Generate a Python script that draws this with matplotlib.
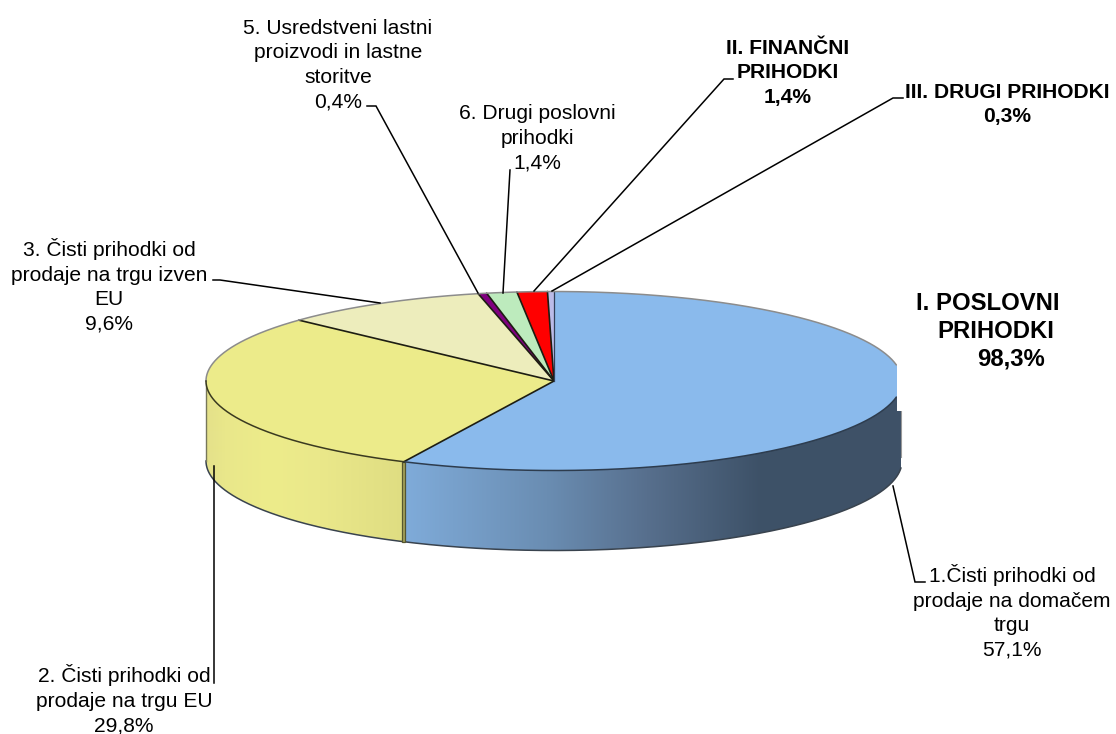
import numpy as np
import matplotlib
matplotlib.use("Agg")
import matplotlib.pyplot as plt
from matplotlib.patches import Polygon, PathPatch, Rectangle
from matplotlib.path import Path
from matplotlib.colors import to_rgb

plt.rcParams['font.family'] = ['Liberation Sans', 'DejaVu Sans']

# ---- data ----
slice_names = ["1.Čisti prihodki od\nprodaje na domačem\ntrgu",
               "2. Čisti prihodki od\nprodaje na trgu EU",
               "3. Čisti prihodki od\nprodaje na trgu izven\nEU",
               "5. Usredstveni lastni\nproizvodi in lastne\nstoritve",
               "6. Drugi poslovni\nprihodki",
               "II. FINANČNI\nPRIHODKI",
               "III. DRUGI PRIHODKI"]
slice_values = [57.1, 29.8, 9.6, 0.4, 1.4, 1.4, 0.3]
slice_colors = ["#8ABAEC", "#ECEB8A", "#EDEDBC", "#800080", "#BDEBBD", "#FF0000", "#BBBBE8"]
total_name = ["I. POSLOVNI", "PRIHODKI"]
total_value = 98.3

# ---- layout (pixels of the 1116x734 image) ----
CX, CY, RX, RY, DEPTH = 554.0, 381.0, 348.0, 89.5, 80.0
CLIP_TOP_X, CLIP_SIDE_X, CLIP_SIDE_Y = 896.5, 901.0, 411.0

fig = plt.figure(figsize=(11.16, 7.34), dpi=100)
ax = fig.add_axes([0, 0, 1, 1])
ax.set_xlim(0, 1116)
ax.set_ylim(734, 0)
ax.axis("off")


def rim(t0, t1, n=200, dy=0.0):
    t = np.radians(np.linspace(t0, t1, n))
    return np.column_stack([CX + RX * np.sin(t), CY - RY * np.cos(t) + dy])


def fmt(v):
    return f"{v:.1f}".replace(".", ",")


bounds = np.concatenate([[0], np.cumsum(slice_values)]) / sum(slice_values) * 360.0


def gradient(stops, clip, z):
    xs = np.arange(190, 920)
    pos = [s[0] for s in stops]
    cols = np.array([to_rgb(s[1]) for s in stops])
    img = np.stack([np.interp(xs, pos, cols[:, i]) for i in range(3)], axis=1)[None, :, :]
    im = ax.imshow(img, extent=(190, 920, 600, 250), aspect="auto", zorder=z, interpolation="bilinear")
    im.set_clip_path(PathPatch(Path(clip), transform=ax.transData))
    ax.set_xlim(0, 1116)
    ax.set_ylim(734, 0)


# side walls
blue_stops = [(406, "#7FABD9"), (547, "#6A8DB2"), (647, "#576F8D"), (760, "#3D5167"), (920, "#3F5268")]
yellow_stops = [(206, "#E4E18A"), (225, "#E9E78A"), (270, "#EDEC8B"), (320, "#EAE88A"), (404, "#DFDD82")]

t_blue = bounds[1]
blue_side = np.vstack([rim(90, t_blue), rim(t_blue, 90, dy=DEPTH)])
blue_side[:, 0] = np.minimum(blue_side[:, 0], CLIP_SIDE_X)
gradient(blue_stops, np.vstack([blue_side, blue_side[:1]]), 1)

yellow_side = np.vstack([rim(t_blue, 270), rim(270, t_blue, dy=DEPTH)])
gradient(yellow_stops, np.vstack([yellow_side, yellow_side[:1]]), 1)

# outline of walls
lower = rim(90, 270, n=400, dy=DEPTH)
lower = lower[lower[:, 0] <= CLIP_SIDE_X]
ax.plot(lower[:, 0], lower[:, 1], color="#39434e", lw=1.1, zorder=2)
ax.plot([CX - RX, CX - RX], [CY, CY + DEPTH], color="#77775a", lw=1.0, zorder=2)
ax.plot([CLIP_SIDE_X, CLIP_SIDE_X], [CLIP_SIDE_Y, CY + DEPTH - 4], color="#999999", lw=0.8, zorder=2)

# cut face between blue and yellow walls
p = rim(t_blue, t_blue, n=1)[0]
ax.add_patch(Rectangle((p[0] - 1.5, p[1]), 3, DEPTH, facecolor="#A3A159", edgecolor="#55552f", lw=0.9, zorder=3))

# white notch at the right of the ellipse
ax.add_patch(Rectangle((CLIP_TOP_X, 300), 30, CLIP_SIDE_Y - 300, facecolor="white", edgecolor="none", zorder=6))

# top face
clip_rect = Rectangle((0, 0), CLIP_TOP_X, 734, transform=ax.transData)
for i, (a, b) in enumerate(zip(bounds[:-1], bounds[1:])):
    pts = np.vstack([[CX, CY], rim(a, b, n=max(int(b - a) * 2, 12))])
    poly = Polygon(pts, closed=True, facecolor=slice_colors[i], edgecolor="none", zorder=4)
    ax.add_patch(poly)
    poly.set_clip_path(clip_rect)

# radial separators
edge_dark = "#1d1d12"
for k in range(1, len(bounds) - 1):
    e = rim(bounds[k], bounds[k], n=1)[0]
    ax.plot([CX, e[0]], [CY, e[1]], color=edge_dark, lw=1.2, zorder=5, solid_capstyle="round")
e = rim(0, 0, n=1)[0]
ax.plot([CX, e[0]], [CY, e[1]], color="#33415a", lw=0.9, zorder=5)

# rim outlines
back = np.vstack([rim(270, 360, 200), rim(0, 90, 200)])
back = back[back[:, 0] <= CLIP_TOP_X]
ax.plot(back[:, 0], back[:, 1], color="#8c8c8c", lw=1.1, zorder=5)
front_b = rim(90, t_blue, 300)
front_b = front_b[front_b[:, 0] <= CLIP_TOP_X]
ax.plot(front_b[:, 0], front_b[:, 1], color="#2d3c4e", lw=1.1, zorder=5)
front_y = rim(t_blue, 270, 200)
ax.plot(front_y[:, 0], front_y[:, 1], color="#3a3a20", lw=1.1, zorder=5)

# leader lines
leaders = [
    [(893, 486), (915, 582), (925, 582)],
    [(214, 466), (214, 683)],
    [(213, 280), (220, 280), (380, 303)],
    [(367, 106), (376, 106), (478, 293)],
    [(510, 170), (503, 293)],
    [(733, 79), (724, 79), (534, 291)],
    [(903, 98), (893, 98), (552, 291)],
]
for L in leaders:
    xs, ys = zip(*L)
    ax.plot(xs, ys, color="black", lw=1.1, zorder=7, solid_joinstyle="miter")

# labels
FS = 15.1
label_pos = [(1012, 612), (124, 700), (109, 286), (338, 65), (537, 138), (788, 73), (1007, 104.5)]
for i, (name, v, (x, y)) in enumerate(zip(slice_names, slice_values, label_pos)):
    bold = i >= 5
    ax.text(x, y, f"{name}\n{fmt(v)}%", ha="center", va="center", fontsize=FS,
            fontweight="bold" if bold else "normal", color="black", linespacing=1.37, zorder=8)

ax.text(916, 303.5, total_name[0], ha="left", va="center", fontsize=17.2, fontweight="bold", zorder=8)
ax.text(937, 331, total_name[1], ha="left", va="center", fontsize=17.2, fontweight="bold", zorder=8)
ax.text(977, 359, f"{fmt(total_value)}%", ha="left", va="center", fontsize=17.2, fontweight="bold", zorder=8)

fig.savefig("out.png", dpi=100, facecolor="white")
